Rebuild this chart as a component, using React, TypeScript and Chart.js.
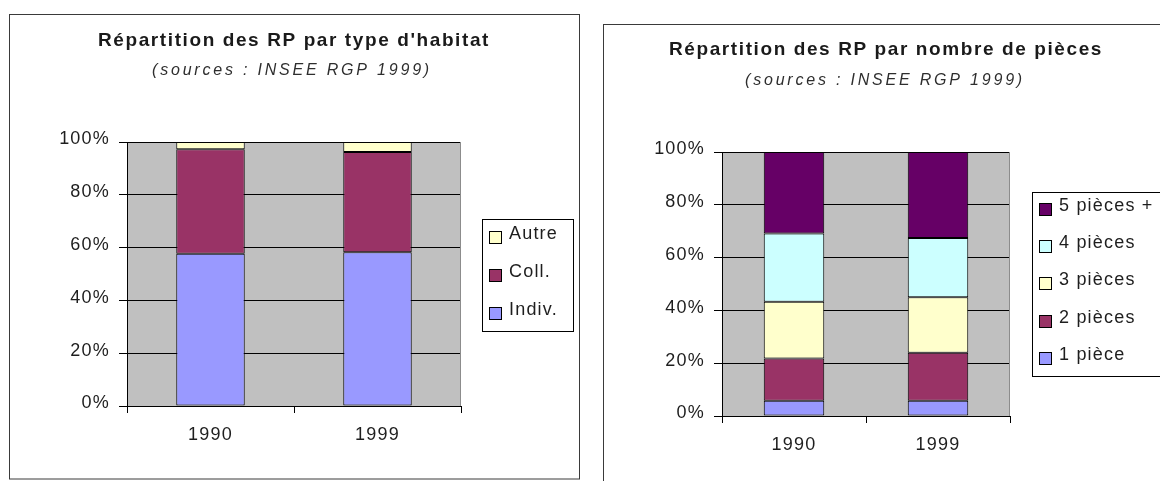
import React, { useEffect, useRef } from 'react';
import { Chart, registerables } from 'chart.js';

Chart.register(...registerables);

// ---------- data ----------
const years = ['1990', '1999'];
const yTicks = [0, 20, 40, 60, 80, 100];

// Chart 1 : type d'habitat
const habitatLabels = ['Indiv.', 'Coll.', 'Autre'];
const indiv = [57.7, 58.2];
const coll = [39.6, 38.0];
const autre = [2.7, 3.8];
const habitatColors = ['#9999ff', '#993366', '#ffffcc'];

// Chart 2 : nombre de pièces
const piecesLabels = ['1 pièce', '2 pièces', '3 pièces', '4 pièces', '5 pièces +'];
const piece1 = [5.8, 5.8];
const piece2 = [16.0, 18.2];
const piece3 = [21.5, 21.0];
const piece4 = [25.8, 22.4];
const piece5 = [30.9, 32.6];
const piecesColors = ['#9999ff', '#993366', '#ffffcc', '#ccffff', '#660066'];

const title1 = "Répartition des RP par type d'habitat";
const title2 = 'Répartition des RP par nombre de pièces';
const subtitleText = '(sources : INSEE RGP 1999)';

// ---------- layout (positions / styles only) ----------
const H = 481;
const FONT = '"Liberation Sans", Arial, Helvetica, sans-serif';
const TEXT_SPACING = '1.2px';

type Lay = {
  canvasLeft: number;
  width: number;
  area: { left: number; right: number; top: number; bottom: number };
  barPct: number;
  title: { x: number; y: number };
  subtitle: { x: number; y: number };
  frame: { x: number; y: number; w: number; h: number };
  legend: { x: number; y: number; w: number; h: number; y0: number; step: number; sq: number; tx: number };
};

const lay1: Lay = {
  canvasLeft: 0,
  width: 590,
  area: { left: 127, right: 461, top: 142, bottom: 406 },
  barPct: 0.41,
  title: { x: 294, y: 46 },
  subtitle: { x: 292, y: 75 },
  frame: { x: 9.5, y: 14.5, w: 570, h: 464.5 },
  legend: { x: 482.5, y: 219.5, w: 91, h: 112, y0: 237, step: 38, sq: 489, tx: 509 },
};

const lay2: Lay = {
  canvasLeft: 590,
  width: 570,
  area: { left: 132, right: 420, top: 152, bottom: 416 },
  barPct: 0.42,
  title: { x: 296, y: 55 },
  subtitle: { x: 295, y: 85 },
  frame: { x: 13.5, y: 24.5, w: 700, h: 600 },
  legend: { x: 442.5, y: 192.5, w: 300, h: 184, y0: 209, step: 37.2, sq: 449, tx: 469 },
};

type PanelProps = {
  lay: Lay;
  title: string;
  subtitle: string;
  labels: string[];
  series: number[][];
  colors: string[];
};

function StackedPanel({ lay, title, subtitle, labels, series, colors }: PanelProps) {
  const ref = useRef<HTMLCanvasElement>(null);

  useEffect(() => {
    const canvas = ref.current;
    if (!canvas) return;
    const Y_W = 120;
    const X_H = 40;

    const decor = {
      id: 'decor',
      beforeDraw(chart: any) {
        const ctx = chart.ctx as CanvasRenderingContext2D;
        const a = chart.chartArea;
        ctx.save();
        ctx.fillStyle = '#ffffff';
        ctx.fillRect(0, 0, chart.width, chart.height);
        ctx.strokeStyle = '#3a3a3a';
        ctx.lineWidth = 1;
        ctx.strokeRect(lay.frame.x, lay.frame.y, lay.frame.w, lay.frame.h);
        ctx.fillStyle = '#c0c0c0';
        ctx.fillRect(a.left, a.top, a.right - a.left, a.bottom - a.top);
        ctx.restore();
        (ctx as any).letterSpacing = TEXT_SPACING;
      },
      beforeDatasetsDraw(chart: any) {
        const ctx = chart.ctx as CanvasRenderingContext2D;
        const a = chart.chartArea;
        ctx.save();
        ctx.strokeStyle = '#8c8c8c';
        ctx.lineWidth = 1;
        ctx.beginPath();
        ctx.moveTo(Math.round(a.right) - 0.5, a.top);
        ctx.lineTo(Math.round(a.right) - 0.5, a.bottom);
        ctx.stroke();
        ctx.restore();
      },
      afterDraw(chart: any) {
        const ctx = chart.ctx as CanvasRenderingContext2D;
        ctx.save();
        // titles
        ctx.textAlign = 'center';
        ctx.textBaseline = 'alphabetic';
        (ctx as any).letterSpacing = '1.6px';
        ctx.font = `bold 19px ${FONT}`;
        ctx.fillStyle = '#1a1a1a';
        ctx.fillText(title, lay.title.x, lay.title.y);
        (ctx as any).letterSpacing = '2.8px';
        ctx.font = `italic 16px ${FONT}`;
        ctx.fillStyle = '#2e2e2e';
        ctx.fillText(subtitle, lay.subtitle.x, lay.subtitle.y);

        // legend
        const L = lay.legend;
        ctx.strokeStyle = '#000';
        ctx.lineWidth = 1;
        ctx.strokeRect(L.x, L.y, L.w, L.h);
        const ds = chart.data.datasets;
        const n = ds.length;
        (ctx as any).letterSpacing = TEXT_SPACING;
        ctx.font = `18px ${FONT}`;
        ctx.textAlign = 'left';
        ctx.textBaseline = 'middle';
        for (let k = 0; k < n; k++) {
          const d = ds[n - 1 - k];
          const cy = Math.round(L.y0 + k * L.step);
          ctx.fillStyle = d.backgroundColor;
          ctx.fillRect(L.sq, cy - 6, 13, 13);
          ctx.strokeStyle = '#000';
          ctx.strokeRect(L.sq + 0.5, cy - 5.5, 12, 12);
          ctx.fillStyle = '#1e1e1e';
          ctx.fillText(d.label, L.tx, cy - 3);
        }
        ctx.restore();
        (ctx as any).letterSpacing = '0px';
      },
    };

    const chart = new Chart(canvas, {
      type: 'bar',
      data: {
        labels: years,
        datasets: series.map((data, i) => ({
          label: labels[i],
          data,
          backgroundColor: colors[i],
          borderColor: '#000',
          borderWidth: 1,
          borderSkipped: false,
          barPercentage: lay.barPct,
          categoryPercentage: 1,
        })),
      },
      options: {
        responsive: false,
        maintainAspectRatio: false,
        animation: false,
        devicePixelRatio: 1,
        layout: {
          padding: {
            left: lay.area.left - Y_W,
            right: lay.width - lay.area.right,
            top: lay.area.top,
            bottom: H - lay.area.bottom - X_H,
          },
        },
        plugins: {
          legend: { display: false },
          title: { display: false },
          tooltip: { enabled: false },
        },
        scales: {
          x: {
            stacked: true,
            offset: true,
            grid: {
              display: true,
              drawOnChartArea: false,
              drawTicks: true,
              tickLength: 7,
              offset: true,
              color: '#000',
            },
            border: { display: true, color: '#000' },
            ticks: { color: '#1e1e1e', font: { family: FONT, size: 18 }, padding: 11 },
            afterFit: (s: any) => {
              s.height = X_H;
            },
          },
          y: {
            stacked: true,
            min: 0,
            max: 100,
            afterBuildTicks: (s: any) => {
              s.ticks = yTicks.map((v) => ({ value: v }));
            },
            ticks: {
              callback: (v: any) => `${v}%`,
              color: '#1e1e1e',
              font: { family: FONT, size: 18 },
              padding: 9,
              labelOffset: -2.5,
            },
            grid: { color: '#000', tickLength: 8, drawTicks: true },
            border: { display: true, color: '#000' },
            afterFit: (s: any) => {
              s.width = Y_W;
            },
          },
        },
      },
      plugins: [decor],
    } as any);

    return () => {
      chart.destroy();
    };
  }, [lay, title, subtitle, labels, series, colors]);

  return (
    <canvas
      ref={ref}
      width={lay.width}
      height={H}
      style={{ position: 'absolute', left: lay.canvasLeft, top: 0, width: lay.width, height: H }}
    />
  );
}

const habitatSeries = [indiv, coll, autre];
const piecesSeries = [piece1, piece2, piece3, piece4, piece5];

export default function App() {
  return (
    <div
      style={{
        position: 'absolute',
        left: 0,
        top: 0,
        width: 1160,
        height: H,
        background: '#fff',
        overflow: 'hidden',
      }}
    >
      <StackedPanel
        lay={lay1}
        title={title1}
        subtitle={subtitleText}
        labels={habitatLabels}
        series={habitatSeries}
        colors={habitatColors}
      />
      <StackedPanel
        lay={lay2}
        title={title2}
        subtitle={subtitleText}
        labels={piecesLabels}
        series={piecesSeries}
        colors={piecesColors}
      />
    </div>
  );
}
